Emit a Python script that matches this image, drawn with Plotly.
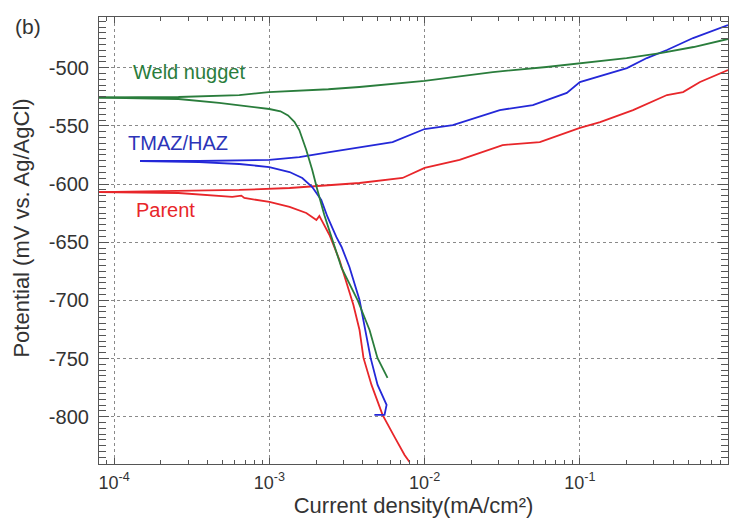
import math
import plotly.graph_objects as go

# Potentiodynamic polarisation curves: current density (mA/cm^2) vs potential (mV vs Ag/AgCl)

# Weld nugget
weld_anodic_i = [8.0e-5, 2.6e-4, 6.4e-4, 9.9e-4, 2.4e-3, 3.8e-3, 1.0e-2, 2.75e-2, 6.1e-2, 0.1, 0.2, 0.33, 0.54, 0.9]
weld_anodic_e = [-525.6, -525.2, -523.5, -521.0, -518.5, -516.6, -511.4, -503.7, -499.4, -496.0, -491.7, -487.4, -482.2, -475.3]
weld_cathodic_i = [8.0e-5, 2.6e-4, 4.75e-4, 7.43e-4, 1.0e-3, 1.18e-3, 1.32e-3, 1.45e-3, 1.56e-3, 1.73e-3, 1.89e-3,
                   2.04e-3, 2.26e-3, 2.55e-3, 2.92e-3, 3.70e-3, 4.42e-3, 4.97e-3, 5.77e-3]
weld_cathodic_e = [-525.6, -526.9, -530.3, -533.8, -535.5, -537.5, -541.0, -546.5, -553.6, -570.7, -587.9,
                   -605.1, -626.6, -648.1, -672.2, -699.7, -725.5, -749.5, -766.7]

# TMAZ/HAZ
haz_anodic_i = [1.47e-4, 3.53e-4, 1.0e-3, 1.56e-3, 2.44e-3, 3.81e-3, 6.22e-3, 1.0e-2, 1.52e-2, 3.05e-2,
                4.98e-2, 8.24e-2, 0.1, 0.201, 0.27, 0.364, 0.536, 0.9]
haz_anodic_e = [-580.2, -580.2, -579.3, -576.8, -572.5, -568.2, -563.9, -552.7, -549.3, -536.4,
                -532.1, -521.7, -512.3, -500.3, -491.7, -484.8, -474.5, -463.3]
haz_cathodic_i = [1.47e-4, 3.53e-4, 6.4e-4, 1.0e-3, 1.35e-3, 1.63e-3, 1.89e-3, 2.16e-3, 2.37e-3, 2.70e-3,
                  2.92e-3, 3.28e-3, 3.81e-3, 4.16e-3, 4.49e-3, 4.98e-3, 5.69e-3, 5.52e-3, 4.75e-3]
haz_cathodic_e = [-580.2, -581.1, -582.8, -585.4, -589.7, -594.8, -602.6, -613.7, -628.3, -645.5,
                  -654.1, -671.3, -699.7, -725.5, -749.5, -772.7, -789.9, -798.5, -798.5]

# Parent metal
parent_anodic_i = [8.0e-5, 2.6e-4, 6.4e-4, 1.35e-3, 3.81e-3, 7.21e-3, 1.0e-2, 1.68e-2, 3.18e-2, 5.52e-2,
                   0.1, 0.135, 0.22, 0.364, 0.462, 0.594, 0.9]
parent_anodic_e = [-606.9, -606.0, -605.1, -603.4, -599.1, -594.8, -586.2, -579.3, -566.5, -563.9,
                   -551.8, -546.7, -536.4, -523.5, -520.9, -512.3, -502.0]
parent_cathodic_i = [8.0e-5, 2.6e-4, 5.77e-4, 6.6e-4, 6.9e-4, 1.0e-3, 1.35e-3, 1.73e-3, 2.01e-3, 2.10e-3,
                     2.20e-3, 2.44e-3, 2.83e-3, 3.19e-3, 3.48e-3, 3.81e-3, 4.04e-3, 4.55e-3, 5.36e-3,
                     6.40e-3, 7.43e-3, 8.0e-3]
parent_cathodic_e = [-606.9, -607.7, -611.1, -610.0, -612.0, -615.4, -619.7, -624.9, -630.9, -627.5,
                     -632.6, -643.8, -665.3, -686.8, -704.0, -725.5, -749.5, -772.7, -798.5,
                     -817.4, -832.9, -839.0]

# Axis ticks
x_tickvals = [1e-4, 1e-3, 1e-2, 1e-1]
x_ticktext = ["10<sup>-4</sup>", "10<sup>-3</sup>", "10<sup>-2</sup>", "10<sup>-1</sup>"]
y_tickvals = [-500, -550, -600, -650, -700, -750, -800]
y_ticktext = ["-500", "-550", "-600", "-650", "-700", "-750", "-800"]

# Curve labels: text, current density, potential
label_text = ["Weld nugget", "TMAZ/HAZ", "Parent"]
label_i = [1.29e-4, 1.19e-4, 1.35e-4]
label_e = [-503.3, -564.7, -621.9]

RED = "#e8262a"
BLUE = "#2428d8"
GREEN = "#2a7d3c"
label_colors = [GREEN, "#2c34b8", RED]

fig = go.Figure()

curves = [
    (parent_anodic_i, parent_anodic_e, RED),
    (parent_cathodic_i, parent_cathodic_e, RED),
    (haz_anodic_i, haz_anodic_e, BLUE),
    (haz_cathodic_i, haz_cathodic_e, BLUE),
    (weld_anodic_i, weld_anodic_e, GREEN),
    (weld_cathodic_i, weld_cathodic_e, GREEN),
]
for xi, ye, col in curves:
    fig.add_trace(go.Scatter(x=xi, y=ye, mode="lines",
                             line=dict(color=col, width=1.8),
                             showlegend=False, hoverinfo="skip"))

FONT = "Liberation Sans, Arial, sans-serif"
axis_col = "#555555"
grid_col = "#8a8a8a"

fig.update_xaxes(
    type="log",
    range=[-4.097, -0.046],
    tickvals=x_tickvals, ticktext=x_ticktext,
    ticks="inside", ticklen=6, tickcolor=axis_col,
    ticklabelstandoff=2,
    minor=dict(dtick="D1", ticks="inside", ticklen=4, tickcolor=axis_col, showgrid=False),
    showgrid=True, gridcolor=grid_col, griddash="dot", gridwidth=1,
    showline=True, linecolor=axis_col, linewidth=1.2, mirror="ticks",
    zeroline=False,
    tickfont=dict(family=FONT, size=18, color="#333333"),
    title=dict(text="Current density(mA/cm²)", standoff=2,
               font=dict(family=FONT, size=22, color="#333333")),
)
fig.update_yaxes(
    range=[-840.7, -456.4],
    tickvals=y_tickvals, ticktext=y_ticktext,
    ticks="inside", ticklen=10, tickcolor=axis_col,
    ticklabelstandoff=5,
    minor=dict(dtick=5, ticks="inside", ticklen=7, tickcolor=axis_col, showgrid=False),
    showgrid=True, gridcolor=grid_col, griddash="dot", gridwidth=1,
    showline=True, linecolor=axis_col, linewidth=1.2, mirror="ticks",
    zeroline=False,
    tickfont=dict(family=FONT, size=20, color="#333333"),
)

# vertical axis title, placed close to the tick labels
fig.add_annotation(x=-0.123, y=0.528, xref="paper", yref="paper",
                   text="Potential (mV vs. Ag/AgCl)", textangle=-90, showarrow=False,
                   xanchor="center", yanchor="middle",
                   font=dict(family=FONT, size=22, color="#333333"))

# annotation x on a log axis is given as log10 of the data value
for text, xv, yv, col in zip(label_text, label_i, label_e, label_colors):
    fig.add_annotation(x=math.log10(xv), y=yv, xref="x", yref="y", text=text, showarrow=False,
                       xanchor="left", yanchor="middle",
                       font=dict(family=FONT, size=20, color=col))

fig.add_annotation(x=-0.113, y=0.978, xref="paper", yref="paper", text="(b)",
                   showarrow=False, xanchor="center", yanchor="middle",
                   font=dict(family=FONT, size=21, color="#333333"))

fig.update_layout(
    width=729, height=529,
    margin=dict(l=99, r=1, t=17, b=65),
    paper_bgcolor="white", plot_bgcolor="white",
)

fig.write_html("out.html")
